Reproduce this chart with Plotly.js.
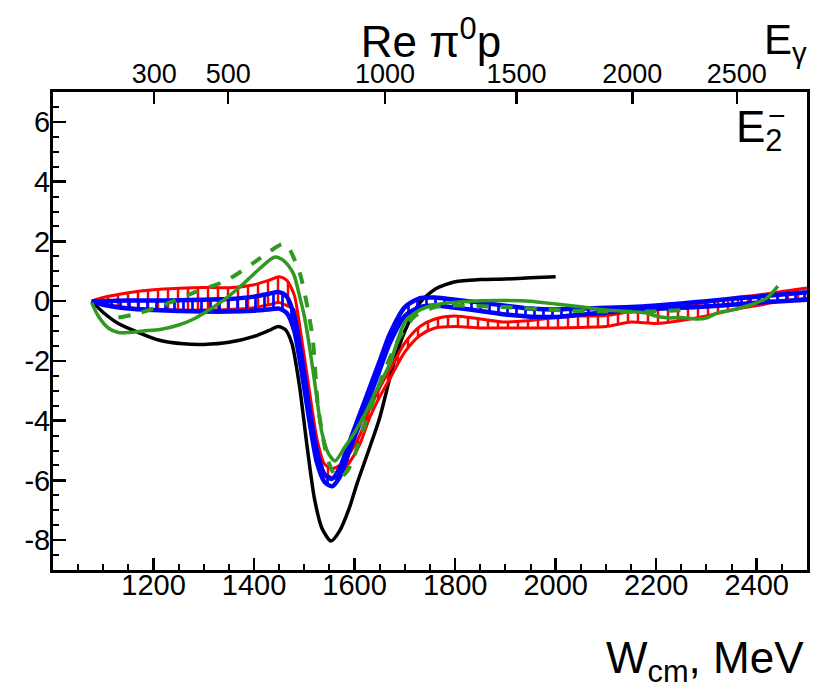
<!DOCTYPE html>
<html>
<head>
<meta charset="utf-8">
<script src="https://cdn.plot.ly/plotly-3.0.1.min.js"></script>
<style>html,body{margin:0;padding:0;background:#fff;}#plot{width:817px;height:692px;}</style>
</head>
<body>
<div id="plot"></div>
<script>
// ---- data (W in MeV, amplitude values) ----
const blackW = [1077,1100,1130,1170,1210,1260,1300,1350,1400,1430,1448,1462,1475,1490,1505,1520,1535,1553,1570,1590,1605,1630,1650,1676,1700,1730,1760,1800,1850,1900,1950,2000];
const blackY = [0,-0.38,-0.75,-1.05,-1.3,-1.43,-1.45,-1.38,-1.18,-0.98,-0.85,-0.95,-1.4,-2.8,-4.8,-6.6,-7.6,-8.03,-7.7,-6.9,-6.1,-4.9,-3.9,-2.2,-1.0,-0.05,0.4,0.65,0.72,0.74,0.78,0.82];

const bandW = [1077,1100,1150,1200,1250,1300,1350,1400,1430,1450,1465,1480,1495,1510,1525,1540,1555,1570,1590,1610,1630,1650,1670,1700,1730,1760,1800,1850,1900,1950,2000,2050,2100,2150,2200,2250,2300,2350,2400,2450,2500];
const redUp = [0,0.12,0.28,0.38,0.43,0.46,0.45,0.55,0.7,0.82,0.7,0.2,-1.3,-3.0,-4.6,-5.45,-5.6,-5.5,-5.1,-4.5,-3.6,-2.9,-2.3,-1.4,-0.85,-0.6,-0.5,-0.6,-0.7,-0.65,-0.55,-0.5,-0.48,-0.35,-0.3,-0.15,-0.05,0.1,0.2,0.32,0.44];
const redLo = [0,-0.1,-0.22,-0.28,-0.3,-0.3,-0.28,-0.22,-0.12,-0.05,-0.15,-0.3,-1.6,-3.3,-4.9,-5.75,-5.9,-5.8,-5.4,-4.8,-3.9,-3.2,-2.6,-1.7,-1.15,-0.9,-0.85,-0.9,-0.9,-0.9,-0.9,-0.88,-0.85,-0.7,-0.75,-0.65,-0.5,-0.3,-0.15,0.0,0.1];
const blueUp = [0,0,0.02,0.02,0.03,0.05,0.07,0.15,0.25,0.3,0.15,-0.5,-1.9,-3.6,-5.0,-5.8,-5.95,-5.6,-4.7,-3.8,-2.9,-2.0,-1.1,-0.2,0.1,0.12,0.05,-0.05,-0.15,-0.25,-0.28,-0.25,-0.22,-0.2,-0.15,-0.08,0,0.08,0.15,0.22,0.3];
const blueLo = [0,-0.12,-0.25,-0.3,-0.33,-0.35,-0.35,-0.32,-0.28,-0.25,-0.4,-1.0,-2.4,-4.0,-5.4,-6.05,-6.2,-5.9,-5.0,-4.1,-3.2,-2.3,-1.4,-0.5,-0.2,-0.15,-0.22,-0.33,-0.45,-0.52,-0.53,-0.45,-0.38,-0.3,-0.25,-0.22,-0.18,-0.12,-0.05,0,0.05];

const greenW = [1077,1090,1110,1130,1150,1180,1213,1250,1280,1310,1346,1380,1412,1440,1455,1470,1480,1490,1500,1511,1523,1535,1548,1561,1580,1600,1620,1640,1670,1700,1730,1760,1790,1830,1880,1950,2000,2054,2100,2154,2180,2200,2221,2250,2280,2301,2321,2350,2387,2420,2442];
const greenY = [-0.05,-0.5,-0.9,-1.05,-1.05,-1.0,-0.95,-0.8,-0.6,-0.3,0.12,0.6,1.1,1.47,1.4,1.15,0.85,0.2,-0.5,-1.6,-3.0,-4.4,-5.1,-5.35,-4.9,-4.4,-3.8,-3.1,-2.1,-0.7,-0.3,-0.12,-0.05,0,0.02,0,-0.1,-0.2,-0.3,-0.36,-0.4,-0.5,-0.56,-0.55,-0.6,-0.56,-0.4,-0.3,-0.13,0.1,0.5];

const gdashW = [1130,1160,1213,1278,1346,1398,1430,1455,1465,1472,1491,1505,1517,1527,1545,1558,1571,1585,1597,1611,1625,1640,1660,1690,1720,1760,1800,1900,2000,2100,2180,2250];
const gdashY = [-0.55,-0.45,-0.17,0.27,0.7,1.27,1.65,1.9,1.88,1.7,0.94,-0.1,-1.3,-3.5,-5.2,-5.75,-5.9,-5.7,-5.3,-4.6,-3.9,-3.2,-2.3,-1.2,-0.5,-0.2,-0.15,-0.2,-0.3,-0.35,-0.35,-0.3];

// axis labels
const wTicks = [1200,1400,1600,1800,2000,2200,2400];
const yTicks = [-8,-6,-4,-2,0,2,4,6];
const yTickText = ['-8','-6','-4','-2','0','2','4','6'];
const eGamma = [300,500,1000,1500,2000,2500];   // photon lab energy, MeV
const mProton = 938.272;

// ---- figure ----
const FONT = 'Liberation Sans, Arial, Helvetica, sans-serif';
const RED = '#ff0000', BLUE = '#0000ff', GREEN = '#2f9a1f', BLACK = '#000000';
const eTickW = eGamma.map(e => Math.sqrt(mProton*mProton + 2*mProton*e));

const sp = {shape:'spline', smoothing:0.7};
const traces = [
  {x: blackW, y: blackY, mode:'lines', line:Object.assign({color:BLACK, width:3.5}, sp)},
  {x: bandW, y: redUp, mode:'lines', line:Object.assign({color:RED, width:3}, sp)},
  {x: bandW, y: redLo, mode:'lines', line:Object.assign({color:RED, width:3}, sp), fill:'tonexty',
   fillcolor:'rgba(0,0,0,0)', fillpattern:{shape:'|', size:10, solidity:0.25, fgcolor:RED, bgcolor:'rgba(0,0,0,0)', fillmode:'replace'}},
  {x: bandW, y: blueUp, mode:'lines', line:Object.assign({color:BLUE, width:4.5}, sp)},
  {x: bandW, y: blueLo, mode:'lines', line:Object.assign({color:BLUE, width:4.5}, sp), fill:'tonexty',
   fillcolor:'rgba(0,0,0,0)', fillpattern:{shape:'|', size:9, solidity:0.3, fgcolor:BLUE, bgcolor:'rgba(0,0,0,0)', fillmode:'replace'}},
  {x: gdashW, y: gdashY, mode:'lines', line:Object.assign({color:GREEN, width:4, dash:'dash'}, sp)},
  {x: greenW, y: greenY, mode:'lines', line:Object.assign({color:GREEN, width:3.5}, sp)},
  {x: [1000,2500], y:[null,null], xaxis:'x2', mode:'lines', hoverinfo:'skip'}
];

const layout = {
  width: 817, height: 692,
  margin: {l:53, r:10, t:92, b:122, pad:0},
  paper_bgcolor:'#fff', plot_bgcolor:'#fff',
  showlegend:false,
  font:{family:FONT, color:'#000'},
  title:{text:'Re π<sup>0</sup>p', font:{family:FONT, size:44, color:'#000'},
         x:431/817, xanchor:'center', xref:'container', y:1-57/692, yanchor:'bottom', yref:'container'},
  xaxis:{range:[1000,2500], tickmode:'array', tickvals:wTicks, ticks:'inside', ticklen:12, tickwidth:2.5, tickcolor:'#000',
         showline:true, linewidth:3, linecolor:'#000', mirror:true, showgrid:false, zeroline:false,
         ticklabelstandoff:-13,
         tickfont:{family:FONT, size:29, color:'#000'},
         minor:{tickmode:'linear', tick0:1000, dtick:50, ticks:'inside', ticklen:6, tickwidth:2, tickcolor:'#000', showgrid:false}},
  xaxis2:{overlaying:'x', side:'top', anchor:'y', range:[1000,2500], tickmode:'array', tickvals:eTickW, ticktext:eGamma.map(String),
          ticks:'inside', ticklen:12, tickwidth:2.5, tickcolor:'#000', showline:true, linewidth:3, linecolor:'#000',
          ticklabelstandoff:-5,
          showgrid:false, zeroline:false, tickfont:{family:FONT, size:27, color:'#000'}},
  yaxis:{range:[-9,7], tickmode:'array', tickvals:yTicks, ticktext:yTickText, ticks:'inside', ticklen:13, tickwidth:2.5, tickcolor:'#000',
         showline:true, linewidth:3, linecolor:'#000', mirror:true, showgrid:false, zeroline:false,
         ticklabelstandoff:-6,
         tickfont:{family:FONT, size:29, color:'#000'},
         minor:{tickmode:'linear', tick0:-9, dtick:0.5, ticks:'inside', ticklen:6, tickwidth:2, tickcolor:'#000', showgrid:false}},
  annotations:[
    {text:'E<sub>γ</sub>', xref:'paper', yref:'paper', x:(762-53)/754, y:(570-14)/478, xanchor:'left', yanchor:'top', showarrow:false, font:{family:FONT, size:42, color:'#000'}},
    {text:'E<sub>2</sub>', xref:'paper', yref:'paper', x:(734-53)/754, y:(570-100)/478, xanchor:'left', yanchor:'top', showarrow:false, font:{family:FONT, size:44, color:'#000'}},
    {text:'−', xref:'paper', yref:'paper', x:(777-53)/754, y:(570-115)/478, xanchor:'center', yanchor:'middle', showarrow:false, font:{family:FONT, size:30, color:'#000'}},
    {text:'W<sub>cm</sub>, MeV', xref:'paper', yref:'paper', x:(806-53)/754, y:(570-631)/478, xanchor:'right', yanchor:'top', showarrow:false, font:{family:FONT, size:44, color:'#000'}}
  ]
};

Plotly.newPlot('plot', traces, layout, {staticPlot:true, displayModeBar:false});
</script>
</body>
</html>
